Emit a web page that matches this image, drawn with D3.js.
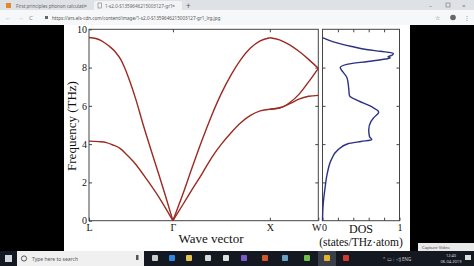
<!DOCTYPE html>
<html>
<head>
<meta charset="utf-8">
<script src="https://cdn.jsdelivr.net/npm/d3@7"></script>
<style>
  body { margin: 0; background: #000; overflow: hidden; }
  svg { display: block; }
  .serif { font-family: "Liberation Serif", "Times New Roman", serif; fill: #111; }
  .ui { font-family: "Noto Sans", Roboto, sans-serif; }
</style>
</head>
<body>
<svg id="chart"></svg>
<script>
// high-symmetry points along the path (k in 2pi/a units)
const kLabels = ["L", "Γ", "X", "W"];
const kPos = [0, 0.866, 1.866, 2.366];

// phonon branches, [k, THz], per path segment
const laLG = [[0, 9.57], [0.07, 9.52], [0.13, 9.4], [0.2, 9.15], [0.27, 8.83], [0.33, 8.4], [0.37, 7.96], [0.43, 7.15], [0.48, 6.39], [0.56, 5.0], [0.69, 2.9], [0.78, 1.45], [0.866, 0]];
const taLG = [[0, 4.16], [0.1, 4.13], [0.18, 4.08], [0.25, 3.95], [0.32, 3.78], [0.39, 3.45], [0.46, 3.08], [0.6, 2.13], [0.74, 1.08], [0.866, 0]];
const laGX = [[0.866, 0], [0.966, 1.35], [1.066, 2.8], [1.166, 4.2], [1.266, 5.5], [1.366, 6.65], [1.466, 7.62], [1.566, 8.42], [1.666, 9.02], [1.766, 9.4], [1.866, 9.56]];
const taGX = [[0.866, 0], [0.966, 0.82], [1.066, 1.65], [1.166, 2.45], [1.266, 3.3], [1.366, 4.0], [1.466, 4.6], [1.566, 5.12], [1.666, 5.5], [1.766, 5.74], [1.866, 5.82]];
const laXW = [[1.866, 9.56], [1.966, 9.45], [2.066, 9.2], [2.166, 8.85], [2.266, 8.43], [2.366, 7.96]];
const ta1XW = [[1.866, 5.82], [1.966, 5.88], [2.066, 6.15], [2.166, 6.6], [2.266, 7.25], [2.366, 7.96]];
const ta2XW = [[1.866, 5.82], [1.966, 5.9], [2.066, 6.1], [2.166, 6.35], [2.266, 6.5], [2.366, 6.55]];
const branches = [laLG, taLG, laGX, taGX, laXW, ta1XW, ta2XW];

// density of states, [THz, states/THz·atom]
const dos = [[0, 0], [0.75, 0.007], [1.62, 0.03], [2.49, 0.063], [3.19, 0.115], [3.7, 0.2], [4.02, 0.33], [4.14, 0.5], [4.23, 0.64],
  [4.4, 0.61], [4.75, 0.6], [5.19, 0.63], [5.4, 0.67], [5.67, 0.73], [5.97, 0.63], [6.27, 0.46], [6.54, 0.35], [6.93, 0.34],
  [7.45, 0.32], [7.8, 0.26], [8.0, 0.23], [8.18, 0.33], [8.32, 0.59], [8.45, 0.82], [8.5, 0.88], [8.56, 0.85], [8.64, 0.9],
  [8.75, 0.92], [8.85, 0.75], [8.93, 0.59], [9.1, 0.38], [9.28, 0.2], [9.45, 0.07], [9.57, 0]];

const freqTicks = [0, 2, 4, 6, 8, 10];
const dosTicks = [0, 0.2, 0.4, 0.6, 0.8, 1];

const W = 474, H = 266;
const svg = d3.select("#chart").attr("width", W).attr("height", H);

// ---------- screenshot frame ----------
svg.append("rect").attr("width", W).attr("height", H).attr("fill", "#000");
svg.append("rect").attr("x", 64).attr("y", 25).attr("width", 346).attr("height", 226).attr("fill", "#fff");

// tab strip
svg.append("rect").attr("width", W).attr("height", 10).attr("fill", "#dee1e6");
svg.append("rect").attr("x", 94).attr("y", 1).attr("width", 88).attr("height", 10).attr("fill", "#f2f3f5").attr("rx", 2);
svg.append("rect").attr("x", 6).attr("y", 3).attr("width", 5).attr("height", 5).attr("fill", "#e8862c");
svg.append("text").attr("class", "ui").attr("x", 16).attr("y", 7.5).attr("font-size", 4.6).attr("fill", "#666").text("First principles phonon calculati");
svg.append("text").attr("class", "ui").attr("x", 84).attr("y", 7.5).attr("font-size", 5).attr("fill", "#555").text("×");
svg.append("rect").attr("x", 98).attr("y", 3).attr("width", 3.5).attr("height", 5).attr("fill", "none").attr("stroke", "#777").attr("stroke-width", 0.6);
svg.append("text").attr("class", "ui").attr("x", 105).attr("y", 7.5).attr("font-size", 4.6).attr("fill", "#666").text("1-s2.0-S1359646215003127-gr1");
svg.append("text").attr("class", "ui").attr("x", 172).attr("y", 7.5).attr("font-size", 5).attr("fill", "#555").text("×");
svg.append("text").attr("class", "ui").attr("x", 186).attr("y", 8.5).attr("font-size", 8).attr("fill", "#555").text("+");
svg.append("text").attr("class", "ui").attr("x", 429).attr("y", 7.5).attr("font-size", 6).attr("fill", "#777").text("–");
svg.append("rect").attr("x", 446).attr("y", 3).attr("width", 4).attr("height", 4).attr("fill", "none").attr("stroke", "#777").attr("stroke-width", 0.6);
svg.append("text").attr("class", "ui").attr("x", 462).attr("y", 7.5).attr("font-size", 6).attr("fill", "#777").text("×");

// address bar row
svg.append("rect").attr("y", 10).attr("width", W).attr("height", 15).attr("fill", "#f6f7f8");
svg.append("text").attr("class", "ui").attr("x", 5).attr("y", 20).attr("font-size", 6).attr("fill", "#999").text("←");
svg.append("text").attr("class", "ui").attr("x", 18).attr("y", 20).attr("font-size", 6).attr("fill", "#bbb").text("→");
svg.append("text").attr("class", "ui").attr("x", 29).attr("y", 20).attr("font-size", 6).attr("fill", "#888").text("C");
svg.append("rect").attr("x", 45).attr("y", 16).attr("width", 3).attr("height", 3).attr("fill", "#666");
svg.append("text").attr("class", "ui").attr("x", 52).attr("y", 19.5).attr("font-size", 4.6).attr("fill", "#555")
  .text("https://ars.els-cdn.com/content/image/1-s2.0-S1359646215003127-gr1_lrg.jpg");
svg.append("text").attr("class", "ui").attr("x", 435).attr("y", 20).attr("font-size", 6).attr("fill", "#777").text("☆");
svg.append("circle").attr("cx", 453).attr("cy", 17.5).attr("r", 2.8).attr("fill", "#666");
svg.append("text").attr("class", "ui").attr("x", 464).attr("y", 20).attr("font-size", 6).attr("fill", "#777").text("⋮");

// taskbar
svg.append("rect").attr("y", 251).attr("width", W).attr("height", 15).attr("fill", "#141821");
svg.append("rect").attr("x", 318).attr("y", 251).attr("width", 18).attr("height", 15).attr("fill", "#3a3f4a");
svg.append("rect").attr("x", 5).attr("y", 255).attr("width", 7).attr("height", 7).attr("fill", "#cfd6e0");
svg.append("rect").attr("x", 17).attr("y", 251).attr("width", 127).attr("height", 15).attr("fill", "#f0f0f0");
svg.append("circle").attr("cx", 24).attr("cy", 258.5).attr("r", 2.6).attr("fill", "none").attr("stroke", "#333").attr("stroke-width", 0.8);
svg.append("text").attr("class", "ui").attr("x", 32).attr("y", 260.5).attr("font-size", 5).attr("fill", "#555").text("Type here to search");
svg.append("rect").attr("x", 136).attr("y", 255).attr("width", 2.5).attr("height", 5).attr("fill", "#555");
const trayIcons = [["#ccc", 155], ["#2d8ae0", 172], ["#e6c34a", 189], ["#d9d9d9", 208], ["#e0e0e0", 226], ["#7b5bc9", 244], ["#d2552b", 265], ["#6aa0c0", 285], ["#6cbf4b", 307], ["#e6b52c", 327], ["#d33a2f", 346]];
trayIcons.forEach(([c, cx]) => {
  svg.append("rect").attr("x", cx - 3).attr("y", 255).attr("width", 6).attr("height", 6).attr("fill", c).attr("rx", 1);
});
svg.append("text").attr("class", "ui").attr("x", 382).attr("y", 260.5).attr("font-size", 4.5).attr("fill", "#ccc").text("⌃  ▭  ⫶  ◁)  ENG");
svg.append("text").attr("class", "ui").attr("x", 451).attr("y", 257).attr("font-size", 4).attr("fill", "#ddd").attr("text-anchor", "middle").text("12:40");
svg.append("text").attr("class", "ui").attr("x", 451).attr("y", 263).attr("font-size", 4).attr("fill", "#ddd").attr("text-anchor", "middle").text("06-04-2019");
svg.append("rect").attr("x", 465).attr("y", 255).attr("width", 6).attr("height", 5).attr("fill", "#ddd");

// capture video pop-up
svg.append("rect").attr("x", 418).attr("y", 243).attr("width", 56).attr("height", 8).attr("fill", "#e9e9e9");
svg.append("text").attr("class", "ui").attr("x", 422).attr("y", 248.7).attr("font-size", 4.2).attr("fill", "#444").text("Capture Video");

// ---------- chart ----------
const yTop = 29.3, yBottom = 220.7;
const x = d3.scaleLinear().domain([kPos[0], kPos[3]]).range([89, 318.3]);
const y = d3.scaleLinear().domain([0, 10]).range([yBottom, yTop]);
const xd = d3.scaleLinear().domain([0, 1]).range([322.5, 399.5]);

const axisColor = "#444";

// panel frames
svg.append("rect").attr("x", x.range()[0]).attr("y", yTop)
  .attr("width", x.range()[1] - x.range()[0]).attr("height", yBottom - yTop)
  .attr("fill", "none").attr("stroke", axisColor).attr("stroke-width", 1);
svg.append("rect").attr("x", xd.range()[0]).attr("y", yTop)
  .attr("width", xd.range()[1] - xd.range()[0]).attr("height", yBottom - yTop)
  .attr("fill", "none").attr("stroke", axisColor).attr("stroke-width", 1);

function styleAxis(g) {
  g.select(".domain").remove();
  g.selectAll(".tick line").attr("stroke", axisColor);
  g.selectAll(".tick text").attr("class", "serif").attr("font-size", 10);
}

// left panel axes (inward ticks)
svg.append("g").attr("transform", `translate(${x.range()[0]},0)`)
  .call(d3.axisRight(y).tickValues(freqTicks).tickSize(3).tickFormat(d3.format("d")))
  .call(styleAxis)
  .call(g => g.selectAll(".tick text").attr("x", -2).attr("text-anchor", "end"));
svg.append("g").attr("transform", `translate(${x.range()[1]},0)`)
  .call(d3.axisLeft(y).tickValues(freqTicks.slice(1, -1)).tickSize(3).tickFormat(""))
  .call(styleAxis);
svg.append("g").attr("transform", `translate(0,${yBottom})`)
  .call(d3.axisTop(x).tickValues(kPos).tickSize(3).tickFormat((d, i) => kLabels[i]))
  .call(styleAxis)
  .call(g => g.selectAll(".tick text").attr("y", 10).attr("dy", 0))
  .call(g => g.selectAll(".tick").filter((d, i) => i === 3).select("text").attr("dx", -2));
svg.append("g").attr("transform", `translate(0,${yTop})`)
  .call(d3.axisBottom(x).tickValues(kPos.slice(1, 3)).tickSize(3).tickFormat(""))
  .call(styleAxis);

// dos panel axes
svg.append("g").attr("transform", `translate(0,${yBottom})`)
  .call(d3.axisTop(xd).tickValues(dosTicks).tickSize(3).tickFormat(d => (d === 0 || d === 1) ? d : ""))
  .call(styleAxis)
  .call(g => g.selectAll(".tick text").attr("y", 10).attr("dy", 0))
  .call(g => g.selectAll(".tick").filter(d => d === 0).select("text").attr("dx", 1.5));
svg.append("g").attr("transform", `translate(0,${yTop})`)
  .call(d3.axisBottom(xd).tickValues(dosTicks.slice(1, -1)).tickSize(3).tickFormat(""))
  .call(styleAxis);
svg.append("g").attr("transform", `translate(${xd.range()[1]},0)`)
  .call(d3.axisLeft(y).tickValues(freqTicks.slice(1, -1)).tickSize(3).tickFormat(""))
  .call(styleAxis);
svg.append("g").attr("transform", `translate(${xd.range()[0]},0)`)
  .call(d3.axisRight(y).tickValues(freqTicks.slice(1, -1)).tickSize(3).tickFormat(""))
  .call(styleAxis);

// dispersion curves
const line = d3.line().x(d => x(d[0])).y(d => y(d[1])).curve(d3.curveMonotoneX);
svg.append("g").selectAll("path")
  .data(branches)
  .enter().append("path")
  .attr("d", line)
  .attr("fill", "none")
  .attr("stroke", "#9b2a22")
  .attr("stroke-width", 1.4);

// dos curve
const dosLine = d3.line().x(d => xd(d[1])).y(d => y(d[0])).curve(d3.curveMonotoneY);
svg.append("path")
  .datum(dos)
  .attr("d", dosLine)
  .attr("fill", "none")
  .attr("stroke", "#2c3282")
  .attr("stroke-width", 1.4);

// axis titles
svg.append("text").attr("class", "serif").attr("font-size", 13)
  .attr("text-anchor", "middle")
  .attr("transform", "translate(76,126) rotate(-90)")
  .text("Frequency (THz)");
svg.append("text").attr("class", "serif").attr("font-size", 13)
  .attr("text-anchor", "middle").attr("x", 211).attr("y", 243)
  .text("Wave vector");
svg.append("text").attr("class", "serif").attr("font-size", 12)
  .attr("text-anchor", "middle").attr("x", 361).attr("y", 232.5)
  .text("DOS");
svg.append("text").attr("class", "serif").attr("font-size", 11.5)
  .attr("text-anchor", "middle").attr("x", 361).attr("y", 246)
  .text("(states/THz·atom)");
</script>
</body>
</html>
